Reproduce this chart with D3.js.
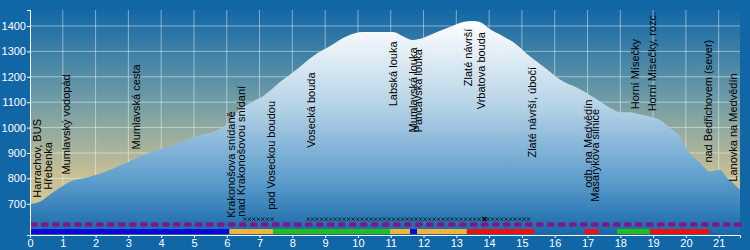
<!DOCTYPE html>
<html>
<head>
<meta charset="utf-8">
<script src="https://cdn.jsdelivr.net/npm/d3@7/dist/d3.min.js"></script>
<style>
  body { margin:0; background:#1166a6; }
  .chart text { font-family: "Liberation Sans", Arial, sans-serif; }
</style>
</head>
<body>
<div class="chart"></div>
<script>
// profile data (km, m)
var profKm   = [0, 0.3, 0.61, 0.91, 1.22, 1.74, 2.23, 2.96, 3.66, 3.96, 4.97, 6.0, 6.4, 6.8, 7.1, 7.62, 8.14, 8.63, 9.15, 9.66, 10.15, 10.67, 11.07, 11.37, 11.68, 11.98, 12.41, 12.8, 13.2, 13.5, 13.72, 14.02, 14.42, 14.73, 15.24, 15.76, 16.25, 16.77, 17.29, 17.77, 17.99, 18.29, 18.6, 18.9, 19.21, 19.55, 19.82, 20.03, 20.43, 20.73, 21.04, 21.25, 21.43, 21.65];
var profElev = [700, 708, 736, 763, 787, 803, 823, 862, 902, 914, 961, 1012, 1072, 1103, 1123, 1179, 1230, 1281, 1321, 1360, 1376, 1376, 1376, 1360, 1345, 1353, 1376, 1396, 1416, 1420, 1416, 1388, 1360, 1337, 1281, 1230, 1182, 1151, 1111, 1072, 1060, 1060, 1052, 1044, 1030, 995, 965, 914, 862, 827, 834, 803, 783, 755];

// waypoint labels (km, elevation where the text starts)
var labelNames = ["Harrachov, BUS", "Hřebenka", "Mumlavský vodopád", "Mumlavská cesta", "Krakonošova snídaně", "nad Krakonošovou snídaní", "pod Voseckou boudou", "Vosecká bouda", "Labská louka", "Mumlavská louka", "Pančavská louka", "Zlaté návrší", "Vrbatova bouda", "Zlaté návrší, úbočí", "odb. na Medvědín", "Masarykova silnice", "Horní Mísečky", "Horní Mísečky, rozc.", "nad Bedřichovem (sever)", "Lanovka na Medvědín"];
var labelKm    = [0.34, 0.67, 1.22, 3.35, 6.25, 6.55, 7.47, 8.69, 11.19, 11.8, 11.95, 13.48, 13.87, 15.43, 17.13, 17.35, 18.57, 19.08, 20.79, 21.55];
var labelElev  = [724, 755, 815, 914, 645, 649, 676, 921, 1084, 981, 981, 1163, 1072, 882, 763, 708, 1072, 1064, 862, 787];

// surface segments
var segStart = [0, 6.08, 7.41, 10.98, 11.59, 11.8, 13.32, 16.9, 17.9, 18.9];
var segEnd   = [6.08, 7.41, 10.98, 11.59, 11.8, 13.32, 15.39, 17.35, 18.9, 20.73];
var segType  = ["B", "O", "G", "O", "B", "O", "R", "R", "G", "R"];

// "x" marked stretches
var crossStart = [6.55, 8.48];
var crossEnd   = [7.4, 15.3];
var crossBold  = [13.86];

var yTicks = [700, 800, 900, 1000, 1100, 1200, 1300, 1400];
var xTicks = d3.range(0, 22);

var svgWidth = 750;
var svgHeight = 250;
var chartMargin = { top: 10, right: 10, bottom: 15, left: 30 };
var width = svgWidth - chartMargin.left - chartMargin.right;
var height = svgHeight - chartMargin.top - chartMargin.bottom;

var segColor = { B: "#0a0ad8", O: "#f2b33c", G: "#22bb22", R: "#ee1111" };

var svg = d3.select(".chart").append("svg")
  .attr("width", svgWidth)
  .attr("height", svgHeight);

var defs = svg.append("defs");
var bg = defs.append("linearGradient").attr("id", "bg")
  .attr("x1", 0).attr("y1", 0).attr("x2", 0).attr("y2", 1);
bg.append("stop").attr("offset", "0").attr("stop-color", "#1368a6");
bg.append("stop").attr("offset", "0.4").attr("stop-color", "#6f9ca6");
bg.append("stop").attr("offset", "0.72").attr("stop-color", "#c4be95");
bg.append("stop").attr("offset", "1").attr("stop-color", "#e0d29c");

var tg = defs.append("linearGradient").attr("id", "terrain")
  .attr("gradientUnits", "userSpaceOnUse")
  .attr("x1", 0).attr("y1", 10).attr("x2", 0).attr("y2", height);
tg.append("stop").attr("offset", "0").attr("stop-color", "#ffffff");
tg.append("stop").attr("offset", "0.4").attr("stop-color", "#b6d3e6");
tg.append("stop").attr("offset", "0.75").attr("stop-color", "#5c9ccb");
tg.append("stop").attr("offset", "1").attr("stop-color", "#1768a8");

var chart = svg.append("g")
  .attr("transform", "translate(" + chartMargin.left + "," + chartMargin.top + ")");

var x = d3.scaleLinear().domain([0, 21.65]).range([0, width]);
var y = d3.scaleLinear().domain([577, 1463]).range([height, 0]);

chart.append("rect")
  .attr("width", width).attr("height", height)
  .attr("fill", "url(#bg)");

// grid
chart.append("g").selectAll("line").data(xTicks.slice(1)).enter().append("line")
  .attr("x1", function(d) { return x(d); }).attr("x2", function(d) { return x(d); })
  .attr("y1", 0).attr("y2", height)
  .attr("stroke", "rgba(255,255,255,0.45)");
chart.append("g").selectAll("line").data(yTicks).enter().append("line")
  .attr("x1", 0).attr("x2", width)
  .attr("y1", function(d) { return y(d); }).attr("y2", function(d) { return y(d); })
  .attr("stroke", "rgba(255,255,255,0.45)");

// terrain
var prof = profKm.map(function(k, i) { return { km: k, elev: profElev[i] }; });
var area = d3.area()
  .x(function(d) { return x(d.km); })
  .y0(height)
  .y1(function(d) { return y(d.elev); })
  .curve(d3.curveMonotoneX);
chart.append("path").datum(prof)
  .attr("d", area)
  .attr("fill", "url(#terrain)");

// labels
chart.append("g").selectAll("text").data(labelNames).enter().append("text")
  .attr("transform", function(d, i) {
    return "translate(" + x(labelKm[i]) + "," + y(labelElev[i]) + ") rotate(-90)";
  })
  .attr("font-size", 11)
  .attr("fill", "#000")
  .text(function(d) { return d; });

// x marks
var crossG = chart.append("g").attr("stroke", "#111").attr("stroke-width", 0.8);
crossStart.forEach(function(s, i) {
  var px = d3.range(x(s), x(crossEnd[i]), 4.5);
  crossG.selectAll(null).data(px).enter().append("path")
    .attr("d", function(p) { return "M" + (p - 1.7) + "," + (height - 17.5) + "l3.4,3.4m0,-3.4l-3.4,3.4"; });
});
crossG.selectAll(null).data(crossBold).enter().append("path")
  .attr("stroke-width", 1.6)
  .attr("d", function(k) { var p = x(k); return "M" + (p - 2) + "," + (height - 18) + "l4,4m0,-4l-4,4"; });

// purple dashes
chart.append("line")
  .attr("x1", 2).attr("x2", width)
  .attr("y1", height - 10.5).attr("y2", height - 10.5)
  .attr("stroke", "#82148c")
  .attr("stroke-width", 4.5)
  .attr("stroke-linecap", "round")
  .attr("stroke-dasharray", "3.5,7.5");

// surface bar
chart.append("g").selectAll("rect").data(segStart).enter().append("rect")
  .attr("x", function(d) { return x(d); })
  .attr("width", function(d, i) { return x(segEnd[i]) - x(d); })
  .attr("y", height - 6).attr("height", 5)
  .attr("rx", function(d, i) { return segType[i] == "R" ? 2.5 : 0; })
  .attr("fill", function(d, i) { return segColor[segType[i]]; });

// axes
var leftAxis = d3.axisLeft(y).tickValues(yTicks).tickFormat(d3.format("d")).tickSize(3).tickPadding(1);
var bottomAxis = d3.axisBottom(x).tickValues(xTicks).tickSize(3).tickPadding(1);

var ya = chart.append("g").call(leftAxis);
var xa = chart.append("g").attr("transform", "translate(0," + height + ")").call(bottomAxis);
[ya, xa].forEach(function(a) {
  a.selectAll("path, line").attr("stroke", "#fff");
  a.selectAll("text").attr("fill", "#fff").attr("font-size", 11)
    .attr("font-family", "Liberation Sans, Arial, sans-serif");
});
</script>
</body>
</html>
